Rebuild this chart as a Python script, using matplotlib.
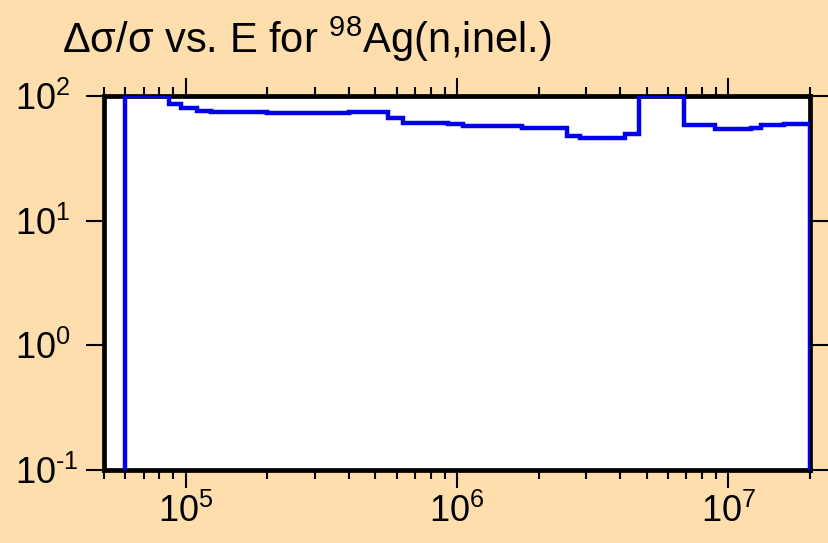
import matplotlib
matplotlib.use('Agg')
import numpy as np
import matplotlib.pyplot as plt
from matplotlib.ticker import NullLocator, LogLocator, FuncFormatter

# bin edges (eV) and relative uncertainty (%)
edges = [6.0e4, 8.7e4, 9.6e4, 1.1e5, 1.24e5, 1.4e5, 2.0e5, 3.0e5, 4.0e5, 5.55e5,
         6.3e5, 9.3e5, 1.05e6, 1.74e6, 2.54e6, 2.85e6, 4.16e6, 4.7e6, 6.87e6,
         8.9e6, 1.21e7, 1.32e7, 1.6e7, 2.0e7]
rel_unc = [100, 87, 80, 76, 75, 74, 73.5, 73.5, 74,
           66.5, 61, 59.5, 57, 55, 47.5, 45.7, 50, 100,
           58.5, 54.4, 55.6, 58, 59.6]
title = r'$\Delta\sigma/\sigma$ vs. E for $^{98}$Ag(n,inel.)'

plt.rcParams['font.family'] = ['Liberation Sans', 'DejaVu Sans']
plt.rcParams['mathtext.fontset'] = 'custom'
plt.rcParams['mathtext.rm'] = 'Liberation Sans'
plt.rcParams['mathtext.it'] = 'Liberation Sans'
plt.rcParams['mathtext.sf'] = 'Liberation Sans'


def pow10(v, pos):
    e = int(round(np.log10(v)))
    if e < 0:
        return r'$\mathdefault{10^{\text{-}%d}}$' % (-e)
    return r'$\mathdefault{10^{%d}}$' % e


bg = '#FFDEAD'
fig = plt.figure(figsize=(8.29, 5.43), dpi=100, facecolor=bg)
ax = fig.add_axes([104/829, 1 - 470/543, (810-104)/829, (470-96)/543])
ax.set_facecolor('white')

ax.stairs(rel_unc, edges, baseline=1e-3, color='#0000EE', linewidth=3.2, zorder=3)

ax.set_xscale('log')
ax.set_yscale('log')
ax.set_xlim(5e4, 2e7)
ax.set_ylim(0.1, 100)
ax.yaxis.set_minor_locator(NullLocator())
ax.xaxis.set_minor_locator(LogLocator(base=10, subs=range(2, 10)))
ax.yaxis.set_major_formatter(FuncFormatter(pow10))
ax.xaxis.set_major_formatter(FuncFormatter(pow10))

for s in ax.spines.values():
    s.set_linewidth(3.4)
ax.tick_params(which='both', direction='out', top=True, right=True, width=1.5,
               labelsize=26)
ax.tick_params(which='major', length=13, pad=4)
ax.tick_params(which='minor', length=6.5)
# y labels start at a common left edge, as in the original
ax.tick_params(axis='y', pad=51)
for lab in ax.get_yticklabels():
    lab.set_horizontalalignment('left')

fig.text(62/829, 1 - 53/543, title, fontsize=30, ha='left', va='baseline')

fig.savefig('out.png', dpi=100, facecolor=bg)
